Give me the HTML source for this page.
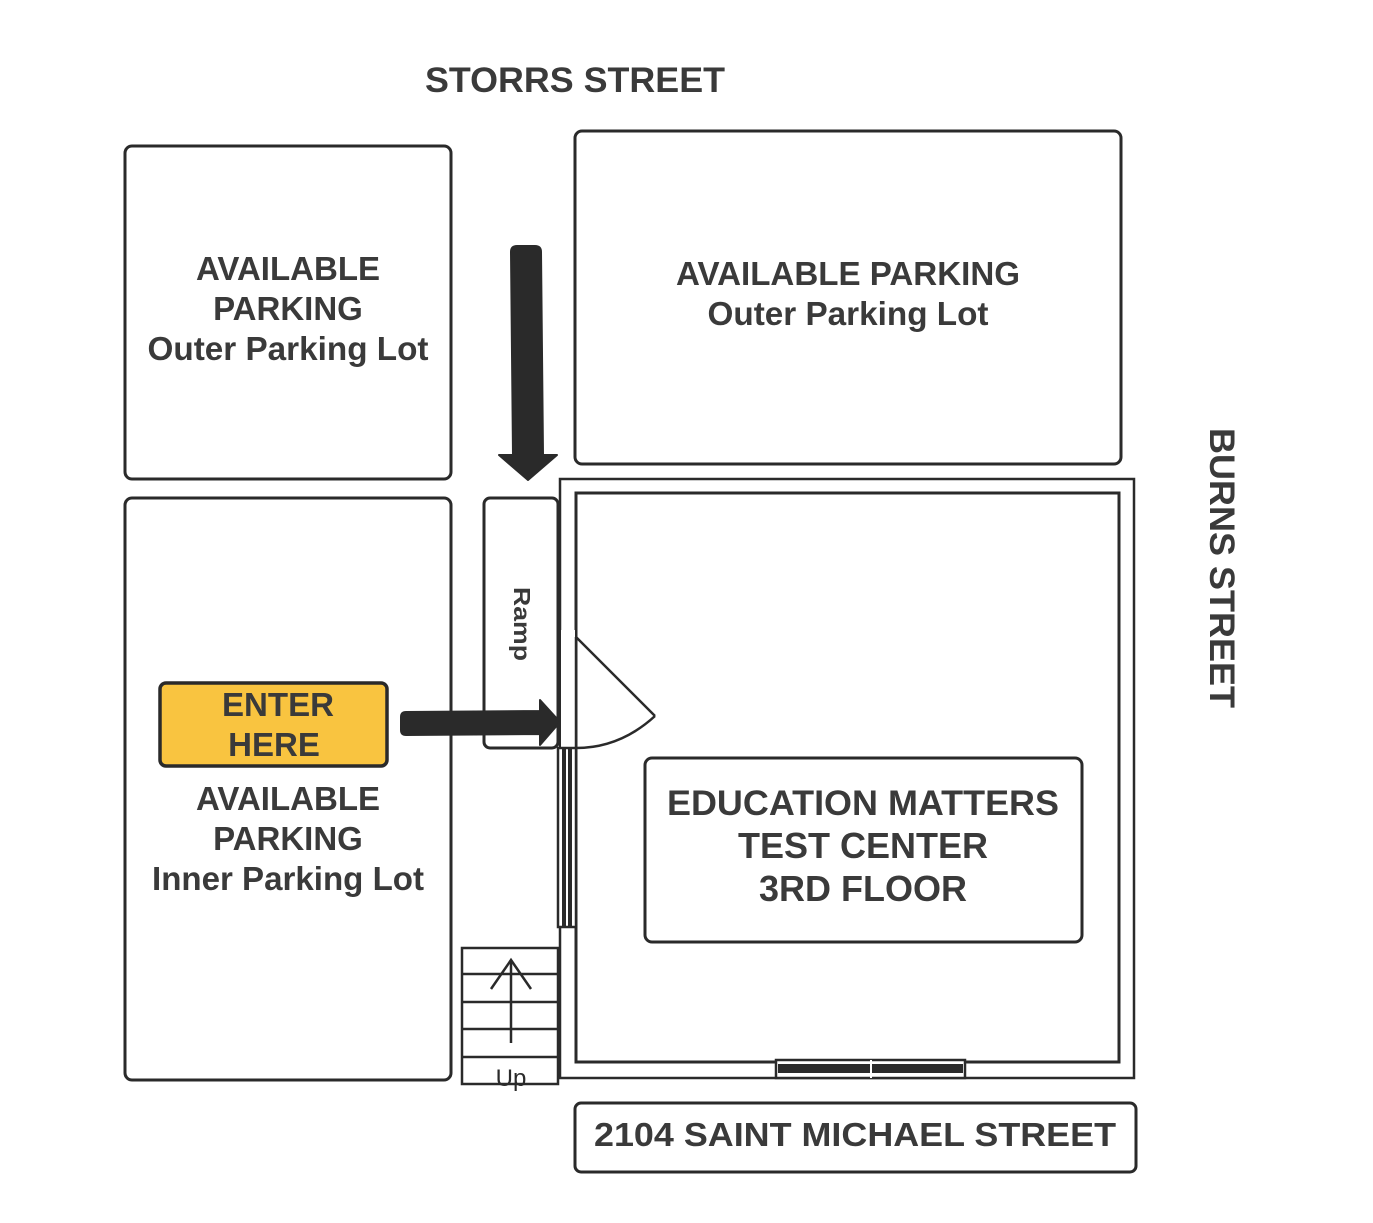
<!DOCTYPE html>
<html><head><meta charset="utf-8"><style>html,body{margin:0;padding:0;background:#fff}svg{display:block}</style></head>
<body>
<svg width="1373" height="1223" viewBox="0 0 1373 1223" xmlns="http://www.w3.org/2000/svg" font-family="Liberation Sans, sans-serif" font-weight="bold" fill="#3a3a3a">
<g fill="none" stroke="#2a2a2a" stroke-width="3">
<rect x="125" y="146" width="326" height="333" rx="7"/>
<rect x="125" y="498" width="326" height="582" rx="7"/>
<rect x="575" y="131" width="546" height="333" rx="7"/>
<rect x="484" y="498" width="74" height="250" rx="6"/>
<rect x="560" y="479" width="574" height="599" stroke-width="2.5"/>
<rect x="576" y="493" width="543" height="569" stroke-width="3"/>
<rect x="645" y="758" width="437" height="184" rx="7"/>
<rect x="575" y="1103" width="561" height="69" rx="6"/>
</g>
<rect x="160" y="683" width="227" height="83" rx="6" fill="#f9c440" stroke="#2a2a2a" stroke-width="3.5"/>
<rect x="561" y="630" width="14" height="119" fill="#fff"/>
<g fill="none" stroke="#2a2a2a" stroke-width="2.5">
<line x1="576" y1="637" x2="576" y2="748"/>
<line x1="576" y1="637" x2="655" y2="716"/>
<path d="M655 716 Q620 748 576 748"/>
</g>
<rect x="558" y="748" width="18" height="179" fill="#fff" stroke="#2a2a2a" stroke-width="2.5"/>
<rect x="562" y="748" width="4" height="179" fill="#2a2a2a"/>
<rect x="568" y="748" width="4" height="179" fill="#2a2a2a"/>
<rect x="776" y="1060" width="189" height="18" fill="#fff" stroke="#2a2a2a" stroke-width="2.5"/>
<rect x="778" y="1064" width="185" height="9" fill="#2a2a2a"/>
<line x1="871" y1="1060" x2="871" y2="1078" stroke="#fff" stroke-width="2"/>
<g fill="none" stroke="#2a2a2a" stroke-width="2.5">
<rect x="462" y="948" width="96" height="136" fill="#fff"/>
<line x1="462" y1="974" x2="558" y2="974"/>
<line x1="462" y1="1002" x2="558" y2="1002"/>
<line x1="462" y1="1029" x2="558" y2="1029"/>
<line x1="462" y1="1057" x2="558" y2="1057"/>
<line x1="511" y1="960" x2="511" y2="1043"/>
<polyline points="491,989 511,960 531,989"/>
</g>
<text x="511" y="1086" font-weight="normal" font-size="24" text-anchor="middle" fill="#2a2a2a">Up</text>
<path d="M511 252 Q511 246 517 246 L535 246 Q541 246 541 252 L543 455 L557 455 L528 480 L499 455 L513 455 Z" fill="#2a2a2a" stroke="#2a2a2a" stroke-width="2" stroke-linejoin="round"/>
<path d="M406 712 L540 711 L540 700 L560 722 L540 745 L540 734 L406 735 Q401 735 401 730 L401 717 Q401 712 406 712 Z" fill="#2a2a2a" stroke="#2a2a2a" stroke-width="2" stroke-linejoin="round"/>
<text x="575" y="92" font-size="35" text-anchor="middle" textLength="300" lengthAdjust="spacingAndGlyphs">STORRS STREET</text>
<g font-size="33" text-anchor="middle">
<text x="288" y="280" textLength="184" lengthAdjust="spacingAndGlyphs">AVAILABLE</text>
<text x="288" y="320">PARKING</text>
<text x="288" y="360" textLength="281" lengthAdjust="spacingAndGlyphs">Outer Parking Lot</text>
<text x="848" y="285" textLength="344" lengthAdjust="spacingAndGlyphs">AVAILABLE PARKING</text>
<text x="848" y="325" textLength="281" lengthAdjust="spacingAndGlyphs">Outer Parking Lot</text>
<text x="278" y="716" textLength="112" lengthAdjust="spacingAndGlyphs">ENTER</text>
<text x="274" y="756">HERE</text>
<text x="288" y="810" textLength="184" lengthAdjust="spacingAndGlyphs">AVAILABLE</text>
<text x="288" y="850">PARKING</text>
<text x="288" y="890" textLength="272" lengthAdjust="spacingAndGlyphs">Inner Parking Lot</text>
<text x="863" y="815" font-size="35" textLength="392" lengthAdjust="spacingAndGlyphs">EDUCATION MATTERS</text>
<text x="863" y="858" font-size="36" textLength="250" lengthAdjust="spacingAndGlyphs">TEST CENTER</text>
<text x="863" y="901" font-size="36" textLength="208" lengthAdjust="spacingAndGlyphs">3RD FLOOR</text>
<text x="855" y="1146" textLength="522" lengthAdjust="spacingAndGlyphs">2104 SAINT MICHAEL STREET</text>
</g>
<text transform="translate(1210,568) rotate(90)" font-size="35" text-anchor="middle" textLength="280" lengthAdjust="spacingAndGlyphs">BURNS STREET</text>
<text transform="translate(514,624) rotate(90)" font-size="23" text-anchor="middle" textLength="74" lengthAdjust="spacingAndGlyphs">Ramp</text>
</svg>
</body></html>
